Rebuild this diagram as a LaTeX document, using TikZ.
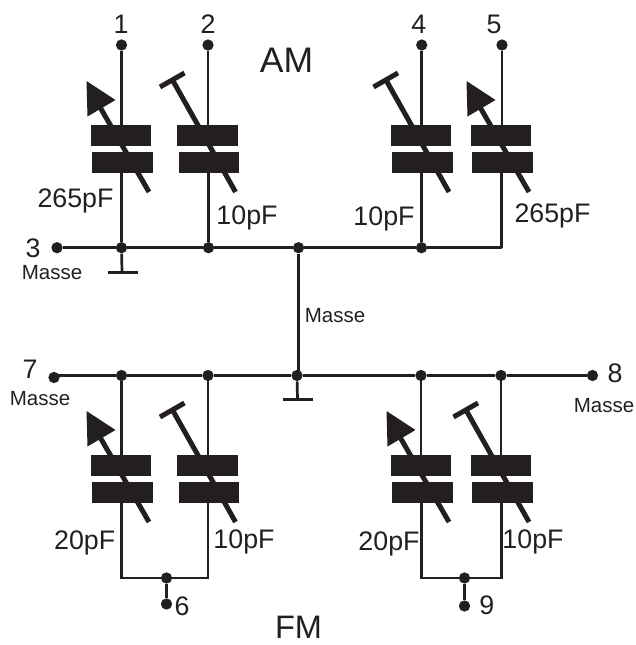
\documentclass[tikz,border=0pt]{standalone}
\usepackage{fontspec}
\setmainfont{Liberation Sans}
\definecolor{ink}{HTML}{231F20}
\tikzset{
  wire/.style={draw=ink,line width=2.7pt},
  dot/.style={circle,fill=ink,draw=none,minimum size=11.3pt,inner sep=0pt},
  plate/.style={rectangle,fill=ink,draw=none,minimum width=60.5pt,minimum height=20.5pt,inner sep=0pt},
  shaft/.style={draw=ink,line width=5pt},
  gndbar/.style={draw=ink,line width=3pt},
  big/.style={anchor=base,text=ink,font=\fontsize{35.5}{35.5}\selectfont,inner sep=0pt},
  bigb/.style={anchor=base,text=ink,font=\fontsize{32.5}{32.5}\selectfont,inner sep=0pt},
  lab/.style={anchor=base,text=ink,font=\fontsize{26.8}{26.8}\selectfont,inner sep=0pt},
  small/.style={anchor=base,text=ink,font=\fontsize{20.5}{20.5}\selectfont,inner sep=0pt}
}
% #1 name, #2 wire x, #3 top of upper plate
\newcommand{\capplates}[3]{%
  \begin{scope}[shift={(#2,#3)}]
    \node[plate] (#1t) at (-0.75,10.25) {};
    \node[plate] (#1b) at (0.75,37.25) {};
  \end{scope}}
\newcommand{\arrowknob}[2]{%
  \begin{scope}[shift={(#1,#2)}]
    \draw[shaft] (27.5,67) -- (-21,-17);
    \fill[ink] (-35,-44) -- (-6,-25) -- (-34,-8.5) -- cycle;
  \end{scope}}
\newcommand{\trimknob}[2]{%
  \begin{scope}[shift={(#1,#2)}]
    \draw[shaft] (27.5,67) -- (-35.5,-45);
    \draw[shaft] (-48,-38) -- (-23.5,-52);
  \end{scope}}
\begin{document}
\begin{tikzpicture}[x=1pt,y=-1pt]
\useasboundingbox (0,0) rectangle (635,645);
% terminal and junction dots
\node[dot] (t1) at (121.5,45) {};
\node[dot] (t2) at (208,45) {};
\node[dot] (t4) at (421.7,45) {};
\node[dot] (t5) at (502,45) {};
\node[dot] (t3) at (57,247.7) {};
\node[dot] (j1) at (121.5,247.7) {};
\node[dot] (j2) at (208.5,247.7) {};
\node[dot] (j0) at (298.5,247.7) {};
\node[dot] (j4) at (421.5,247.7) {};
\coordinate (j5) at (501.5,247.7);
\node[dot] (t7) at (54,377.5) {};
\node[dot] (k1) at (121.5,375.5) {};
\node[dot] (k2) at (208,375.5) {};
\node[dot] (k0) at (297,375.5) {};
\node[dot] (k4) at (421,375.5) {};
\node[dot] (k5) at (501,375.5) {};
\node[dot] (t8) at (592.5,375.5) {};
\node[dot] (m6) at (166.5,578) {};
\node[dot] (t6) at (166.5,604) {};
\node[dot] (m9) at (464.5,578) {};
\node[dot] (t9) at (464.5,606) {};
\coordinate (g1) at (122,272);
\coordinate (g0) at (297.5,399);
\coordinate (f1) at (121.5,578);
\coordinate (f2) at (208,578);
\coordinate (f4) at (421.5,578);
\coordinate (f5) at (501.5,578);
% capacitors
\capplates{a}{121.5}{125}
\capplates{b}{208}{125}
\capplates{c}{421.5}{125}
\capplates{d}{501.5}{125}
\capplates{e}{121.5}{455}
\capplates{f}{208}{455}
\capplates{g}{421.5}{455}
\capplates{h}{501.5}{455}
% wires: AM
\draw[wire] (t1) -- (t1 |- at.north);
\draw[wire] (t2) -- (t2 |- bt.north);
\draw[wire] (t4) -- (t4 |- ct.north);
\draw[wire] (t5) -- (t5 |- dt.north);
\draw[wire] (j1) -- (j1 |- ab.south);
\draw[wire] (j2) -- (j2 |- bb.south);
\draw[wire] (j4) -- (j4 |- cb.south);
\draw[wire] (j5) -- (j5 |- db.south);
\draw[wire] (t3) -- (j1) -- (j2) -- (j0) -- (j4) -- (j5);
\draw[wire] (j0) -- (j0 |- k0);
\draw[wire] (j1) -- (g1);
\draw[gndbar] (108,272) -- (138,272);
% wires: FM
\draw[wire] (t7 |- k1) -- (k1) -- (k2) -- (k0) -- (k4) -- (k5) -- (t8);
\draw[wire] (k1) -- (k1 |- et.north);
\draw[wire] (k2) -- (k2 |- ft.north);
\draw[wire] (k4) -- (k4 |- gt.north);
\draw[wire] (k5) -- (k5 |- ht.north);
\draw[wire] (f1 |- eb.south) -- (f1) -- (m6) -- (f2) -- (f2 |- fb.south);
\draw[wire] (f4 |- gb.south) -- (f4) -- (m9) -- (f5) -- (f5 |- hb.south);
\draw[wire] (m6) -- (t6);
\draw[wire] (m9) -- (t9);
\draw[wire] (k0) -- (g0);
\draw[gndbar] (283,399) -- (313,399);
% knobs
\arrowknob{121.5}{125}
\trimknob{208}{125}
\trimknob{421.5}{125}
\arrowknob{501.5}{125}
\arrowknob{121.5}{455}
\trimknob{208}{455}
\arrowknob{421.5}{455}
\trimknob{501.5}{455}
% labels
\node[lab] (n1) at (121,33) {1};
\node[lab] (n2) at (208,33) {2};
\node[lab] (n4) at (418.7,33) {4};
\node[lab] (n5) at (494,33) {5};
\node[lab] (n3) at (33,257) {3};
\node[lab] (n7) at (30,378) {7};
\node[lab] (n8) at (615,382) {8};
\node[lab] (n6) at (182,615) {6};
\node[lab] (n9) at (486.7,614) {9};
\node[big] (am) at (286.5,72) {AM};
\node[bigb] (fm) at (298.5,638) {FM};
\node[lab] (v1) at (75.5,207) {265pF};
\node[lab] (v2) at (247,224) {10pF};
\node[lab] (v3) at (384,225.5) {10pF};
\node[lab] (v4) at (552.5,222) {265pF};
\node[lab] (v5) at (84.7,549) {20pF};
\node[lab] (v6) at (244,548) {10pF};
\node[lab] (v7) at (389,550) {20pF};
\node[lab] (v8) at (533,548) {10pF};
\node[small] (s1) at (52,279) {Masse};
\node[small] (s2) at (335,322) {Masse};
\node[small] (s3) at (40,405.7) {Masse};
\node[small] (s4) at (604,412) {Masse};
\end{tikzpicture}
\end{document}
